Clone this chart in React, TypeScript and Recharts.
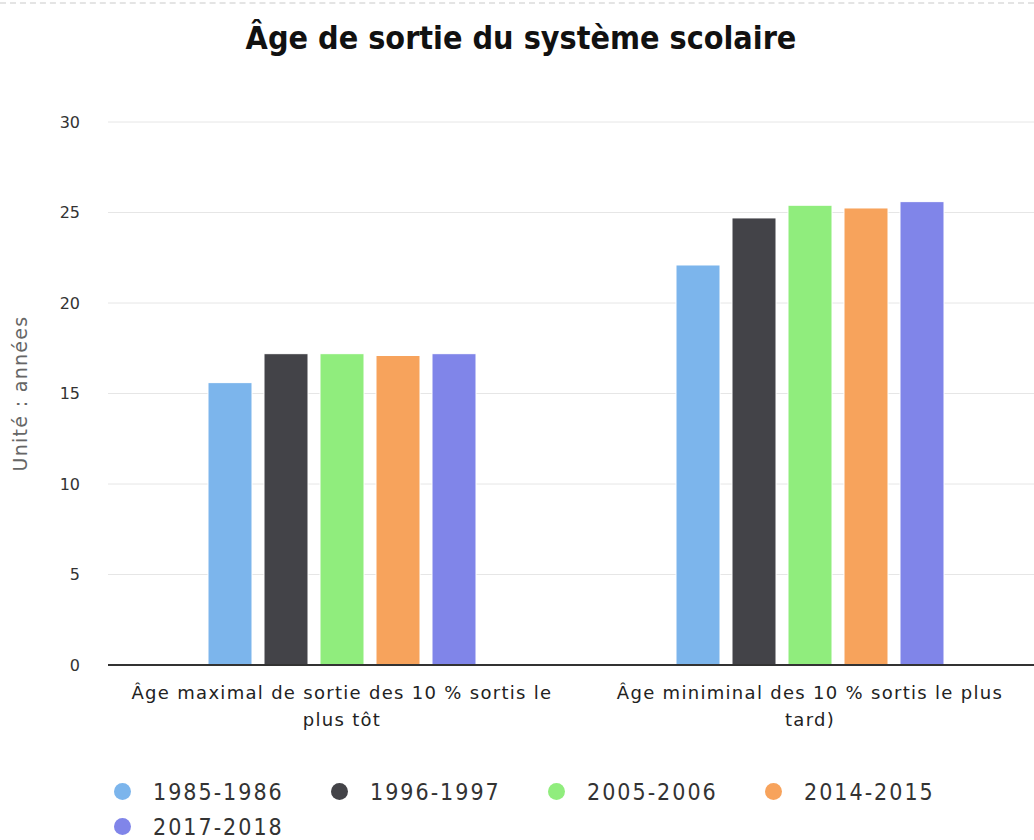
import React from 'react'
import { BarChart, Bar, CartesianGrid, XAxis, YAxis, Legend } from 'recharts';

const categories = [
  'Âge maximal de sortie des 10 % sortis le plus tôt',
  'Âge miniminal des 10 % sortis le plus tard)',
];

const seriesNames = ['1985-1986', '1996-1997', '2005-2006', '2014-2015', '2017-2018'];
const colors = ['#7cb5ec', '#434348', '#90ed7d', '#f7a35c', '#8085e9'];

const v1985 = [15.6, 22.1];
const v1996 = [17.2, 24.7];
const v2005 = [17.2, 25.4];
const v2014 = [17.1, 25.25];
const v2017 = [17.2, 25.6];

const yTicks = [0, 5, 10, 15, 20, 25, 30];

const allValues = [v1985, v1996, v2005, v2014, v2017];

const data = categories.map((name, i) => {
  const row: any = { name };
  seriesNames.forEach((s, j) => {
    row[s] = allValues[j][i];
  });
  return row;
});

const condensed = "'DejaVu Sans Condensed', 'Noto Sans', sans-serif";
const plain = "'DejaVu Sans', 'Noto Sans', sans-serif";

// greedy wrap by character count
function wrap(str: string, maxChars: number) {
  const lines: string[] = [];
  let cur = '';
  str.split(' ').forEach((w) => {
    const next = cur ? cur + ' ' + w : w;
    if (next.length > maxChars && cur) {
      lines.push(cur);
      cur = w;
    } else {
      cur = next;
    }
  });
  if (cur) lines.push(cur);
  return lines;
}

const CategoryTick = (props: any) => {
  const { x, y, payload } = props;
  const lines = wrap(payload.value, 41);
  return (
    <text
      x={x}
      y={y + 10}
      textAnchor="middle"
      style={{ fontFamily: plain, fontSize: 18, letterSpacing: 1.3, fill: '#222' }}
    >
      {lines.map((l, i) => (
        <tspan key={i} x={x} dy={i === 0 ? '0.9em' : 27}>{l}</tspan>
      ))}
    </text>
  );
};

const LegendContent = () => (
  <div style={{ display: 'flex', flexWrap: 'wrap', width: 880, fontFamily: condensed, fontSize: 23, color: '#333' }}>
    {seriesNames.map((s, i) => (
      <div key={s} style={{ width: 217, height: 35, display: 'flex', alignItems: 'center' }}>
        <span style={{ width: 17, height: 17, borderRadius: '50%', background: colors[i], display: 'inline-block', marginRight: 22 }} />
        <span style={{ letterSpacing: 2 }}>{s}</span>
      </div>
    ))}
  </div>
);

export default function App() {
  return (
    <div style={{ position: 'absolute', left: 0, top: 0, width: 1034, height: 840, overflow: 'hidden', background: '#fff' }}>
      <div style={{ position: 'absolute', left: 0, top: 2, width: 1034, borderTop: '2px dashed #e4e4e4' }} />
      <div style={{ position: 'absolute', left: 0, top: 19, width: 1042, textAlign: 'center', fontFamily: condensed, fontSize: 32, color: '#111', fontWeight: 'bold' }}>
        Âge de sortie du système scolaire
      </div>
      <div style={{ position: 'absolute', left: 0, top: 0 }}>
        <BarChart
          width={1060}
          height={840}
          data={data}
          barSize={44}
          barGap={12}
          margin={{ top: 122, right: 16, left: 0, bottom: 115 }}
        >
          <CartesianGrid vertical={false} stroke="#e6e6e6" />
          <XAxis
            dataKey="name"
            height={60}
            tick={<CategoryTick />}
            tickLine={false}
            axisLine={{ stroke: '#333', strokeWidth: 2 }}
            interval={0}
          />
          <YAxis
            width={108}
            domain={[0, 30]}
            ticks={yTicks}
            tickLine={false}
            axisLine={false}
            tickSize={0}
            tickMargin={28}
            tick={{ fontFamily: plain, fontSize: 16, fill: '#333' }}
            label={{ value: 'Unité : années', angle: -90, position: 'insideLeft', offset: 20, style: { fontFamily: plain, fontSize: 19, letterSpacing: 1.3, fill: '#666', textAnchor: 'middle' } }}
          />
          <Legend
            layout="horizontal"
            verticalAlign="middle"
            align="center"
            content={<LegendContent />}
            wrapperStyle={{ top: 774, left: 114, width: 900 }}
          />
          {seriesNames.map((s, i) => (
            <Bar key={s} dataKey={s} fill={colors[i]} stroke="#fff" strokeWidth={1} isAnimationActive={false} />
          ))}
        </BarChart>
      </div>
    </div>
  );
}
